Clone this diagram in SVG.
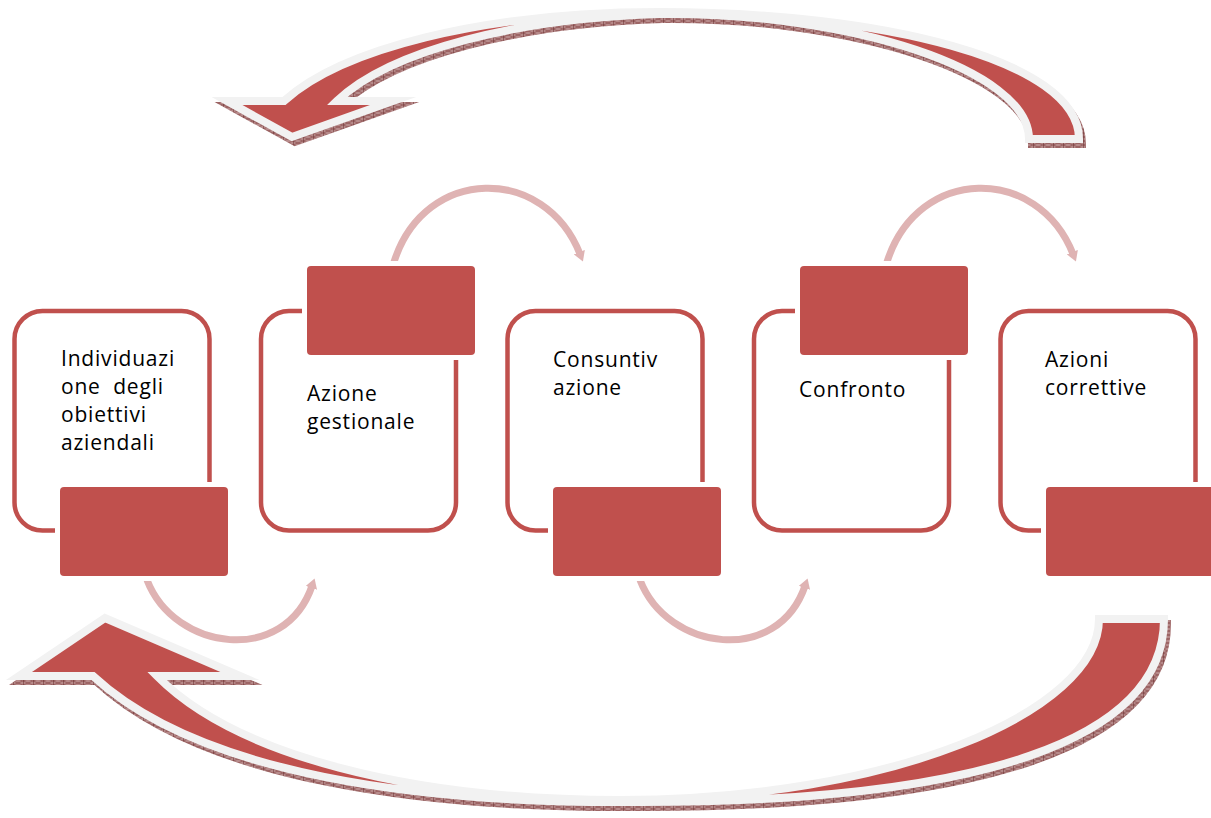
<svg xmlns="http://www.w3.org/2000/svg" width="1211" height="818" viewBox="0 0 1211 818">
  <defs>
    <style>
      .outline { fill: none; stroke: #c0504d; stroke-width: 4.5; }
      .box { fill: #c0504d; stroke: #ffffff; stroke-width: 10; paint-order: stroke; }
      .label { font-family: "Open Sans", "Liberation Sans", sans-serif; font-size: 21px; letter-spacing: 0.8px; fill: #000000; white-space: pre; }
      .arc { fill: none; stroke: #dfb3b3; stroke-width: 7; marker-end: url(#tip); }
      .bigarrow { fill: #c0504d; stroke: #f2f2f2; stroke-width: 8; stroke-linejoin: miter; stroke-miterlimit: 8; }
      .shadow { fill: url(#hatch); stroke: url(#hatch); stroke-width: 8; stroke-linejoin: miter; stroke-miterlimit: 8; }
    </style>
    <pattern id="hatch" width="10" height="4" patternUnits="userSpaceOnUse">
      <rect width="10" height="4" fill="#b78b8b"/>
      <path d="M0,0 L10,4 M0,4 L10,0" stroke="#7a3535" stroke-width="0.5"/>
      <path d="M0,0 V4" stroke="#5e2020" stroke-width="0.9"/>
    </pattern>
    <marker id="tip" viewBox="0 0 10 12" markerWidth="10" markerHeight="12" refX="2" refY="6" markerUnits="userSpaceOnUse" orient="auto">
      <path d="M0,0 L10,6 L0,12 Z" fill="#dfb3b3"/>
    </marker>
  </defs>

  <rect width="1211" height="818" fill="#ffffff"/>

  <g id="connectors">
    <!-- upper return arrow: from the last step back to the first -->
    <g id="return-top">
      <path class="shadow" transform="translate(3,5)" d="M1079,139 C1079,60 880,12 660,12 C480,12 340,50 284,101 L227,101 L292,137 L393,101 L337,101 C390,50 520,18 660,14 C850,12 1029,70 1029,139 Z"/>
      <path class="bigarrow" d="M1079,139 C1079,60 880,12 660,12 C480,12 340,50 284,101 L227,101 L292,137 L393,101 L337,101 C390,50 520,18 660,14 C850,12 1029,70 1029,139 Z"/>
    </g>
    <!-- lower return arrow -->
    <g id="return-bottom">
      <path class="shadow" transform="translate(3,5)" d="M1099,619 L1164,619 C1164,740 980,802 640,802 C420,804 200,775 93,676 L19,676 L105,618 L240,676 L157,676 C235,755 410,800 620,800 C890,800 1099,712 1099,619 Z"/>
      <path class="bigarrow" d="M1099,619 L1164,619 C1164,740 980,802 640,802 C420,804 200,775 93,676 L19,676 L105,618 L240,676 L157,676 C235,755 410,800 620,800 C890,800 1099,712 1099,619 Z"/>
    </g>
    <!-- step-to-step arcs -->
    <path class="arc" d="M147,580 C175,652 285,665 312,586"/>
    <path class="arc" d="M394,262 C425,165 545,165 580,254"/>
    <path class="arc" d="M640,580 C668,652 778,665 805,586"/>
    <path class="arc" d="M887,262 C918,165 1038,165 1073,254"/>
  </g>

  <g id="node-obiettivi">
    <rect class="outline" x="14.5" y="311" width="195" height="219.5" rx="28"/>
    <rect class="box" x="60" y="487" width="168" height="89" rx="4"/>
    <text class="label" x="61" y="366">Individuazi</text>
    <text class="label" x="61" y="394">one  degli</text>
    <text class="label" x="61" y="422">obiettivi</text>
    <text class="label" x="61" y="450">aziendali</text>
  </g>

  <g id="node-azione">
    <rect class="outline" x="261" y="311" width="195" height="219.5" rx="28"/>
    <rect class="box" x="307" y="266" width="168" height="89" rx="4"/>
    <text class="label" x="307" y="401">Azione</text>
    <text class="label" x="307" y="429">gestionale</text>
  </g>

  <g id="node-consuntivazione">
    <rect class="outline" x="507.5" y="311" width="195" height="219.5" rx="28"/>
    <rect class="box" x="553" y="487" width="168" height="89" rx="4"/>
    <text class="label" x="553" y="367">Consuntiv</text>
    <text class="label" x="553" y="395">azione</text>
  </g>

  <g id="node-confronto">
    <rect class="outline" x="754" y="311" width="195" height="219.5" rx="28"/>
    <rect class="box" x="800" y="266" width="168" height="89" rx="4"/>
    <text class="label" x="799" y="397">Confronto</text>
  </g>

  <g id="node-azioni">
    <rect class="outline" x="1000.5" y="311" width="195" height="219.5" rx="28"/>
    <rect class="box" x="1046" y="487" width="168" height="89" rx="4"/>
    <text class="label" x="1045" y="367">Azioni</text>
    <text class="label" x="1045" y="395">correttive</text>
  </g>
</svg>
